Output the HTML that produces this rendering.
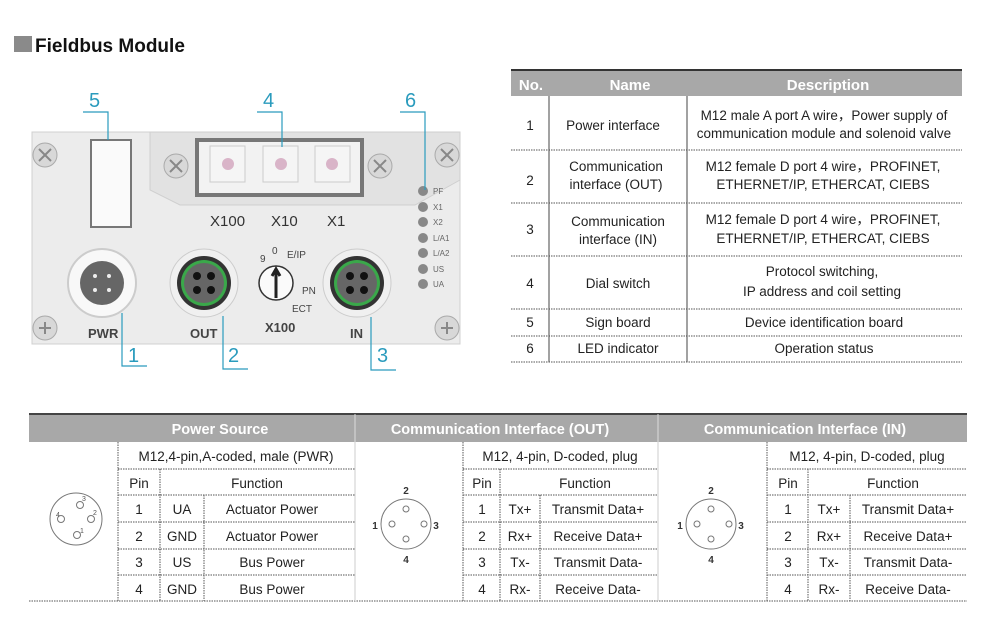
<!DOCTYPE html>
<html><head><meta charset="utf-8"><style>
html,body{margin:0;padding:0;background:#fff;}
svg{display:block;font-family:"Liberation Sans","Noto Sans CJK SC",sans-serif;}
</style></head><body>
<svg width="988" height="619" viewBox="0 0 988 619" xmlns="http://www.w3.org/2000/svg">
<!-- Title -->
<rect x="14" y="36" width="18" height="16" fill="#8a8a8a"/>
<text x="35" y="52" font-size="19" font-weight="bold" fill="#111">Fieldbus Module</text>

<!-- Device panel -->
<rect x="32" y="132" width="428" height="212" fill="#ececec" stroke="#d0d0d0"/>
<polygon points="150,132 460,132 460,180 415,205 180,205 150,190" fill="#e2e2e2" stroke="#cfcfcf"/>
<rect x="197" y="140" width="165" height="55" fill="#f2f2f2" stroke="#777" stroke-width="4"/>
<g fill="#f5f5f5" stroke="#ccc"><rect x="210" y="146" width="35" height="36"/><rect x="263" y="146" width="35" height="36"/><rect x="315" y="146" width="35" height="36"/></g>
<g fill="#d9b4c8"><circle cx="228" cy="164" r="6"/><circle cx="281" cy="164" r="6"/><circle cx="332" cy="164" r="6"/></g>
<g fill="#d8d8d8" stroke="#aaa"><circle cx="45" cy="155" r="12"/><circle cx="176" cy="166" r="12"/><circle cx="380" cy="166" r="12"/><circle cx="447" cy="155" r="12"/><circle cx="45" cy="328" r="12"/><circle cx="447" cy="328" r="12"/></g>
<g stroke="#888" stroke-width="2"><path d="M39 149l12 12M51 149l-12 12M170 160l12 12M182 160l-12 12M374 160l12 12M386 160l-12 12M441 149l12 12M453 149l-12 12M39 328h12M45 322v12M441 328h12M447 322v12"/></g>
<rect x="91" y="140" width="40" height="87" fill="#fafafa" stroke="#777" stroke-width="2"/>
<g font-size="15" fill="#333"><text x="210" y="226">X100</text><text x="271" y="226">X10</text><text x="327" y="226">X1</text></g>
<!-- connectors -->
<circle cx="102" cy="283" r="34" fill="#f8f8f8" stroke="#ccc" stroke-width="2"/><circle cx="102" cy="283" r="22" fill="#666"/>
<g fill="#eee"><circle cx="95" cy="276" r="2"/><circle cx="109" cy="276" r="2"/><circle cx="95" cy="290" r="2"/><circle cx="109" cy="290" r="2"/></g>
<circle cx="204" cy="283" r="34" fill="#f0f0f0" stroke="#ccc"/><circle cx="204" cy="283" r="27" fill="#333"/><circle cx="204" cy="283" r="23" fill="#3aa84a"/><circle cx="204" cy="283" r="20" fill="#666"/>
<circle cx="357" cy="283" r="34" fill="#f0f0f0" stroke="#ccc"/><circle cx="357" cy="283" r="27" fill="#333"/><circle cx="357" cy="283" r="23" fill="#3aa84a"/><circle cx="357" cy="283" r="20" fill="#666"/>
<g fill="#111"><circle cx="197" cy="276" r="4"/><circle cx="211" cy="276" r="4"/><circle cx="197" cy="290" r="4"/><circle cx="211" cy="290" r="4"/><circle cx="350" cy="276" r="4"/><circle cx="364" cy="276" r="4"/><circle cx="350" cy="290" r="4"/><circle cx="364" cy="290" r="4"/></g>
<circle cx="276" cy="283" r="17" fill="#fafafa" stroke="#333" stroke-width="1.5"/><path d="M276 298V270M272 276l4-7 4 7" stroke="#222" stroke-width="3" fill="none"/>
<g font-size="10" fill="#444"><text x="260" y="262">9</text><text x="272" y="254">0</text><text x="287" y="258">E/IP</text><text x="302" y="294">PN</text><text x="292" y="312">ECT</text></g>
<g font-size="13" fill="#444" font-weight="bold"><text x="88" y="338">PWR</text><text x="190" y="338">OUT</text><text x="265" y="332">X100</text><text x="350" y="338">IN</text></g>
<g fill="#888"><circle cx="423" cy="191" r="5"/><circle cx="423" cy="207" r="5"/><circle cx="423" cy="222" r="5"/><circle cx="423" cy="238" r="5"/><circle cx="423" cy="253" r="5"/><circle cx="423" cy="269" r="5"/><circle cx="423" cy="284" r="5"/></g>
<g font-size="8" fill="#666"><text x="433" y="194">PF</text><text x="433" y="210">X1</text><text x="433" y="225">X2</text><text x="433" y="241">L/A1</text><text x="433" y="256">L/A2</text><text x="433" y="272">US</text><text x="433" y="287">UA</text></g>
<!-- callouts -->
<g stroke="#2a9bbd" stroke-width="1.2" fill="none"><path d="M83 112h25v28M257 112h25v35M400 112h25v78M122 313v53h25M223 316v53h25M371 317v53h25"/></g>
<g font-size="20" fill="#2a9bbd"><text x="89" y="107">5</text><text x="263" y="107">4</text><text x="405" y="107">6</text><text x="128" y="362">1</text><text x="228" y="362">2</text><text x="377" y="362">3</text></g>

<!-- Top right table -->
<rect x="511" y="70" width="451" height="26" fill="#a8a8a8"/><rect x="511" y="69" width="451" height="2" fill="#333"/>
<g font-size="15" font-weight="bold" fill="#fff" text-anchor="middle"><text x="531" y="90">No.</text><text x="630" y="90">Name</text><text x="828" y="90">Description</text></g>
<g stroke="#555" stroke-dasharray="1.5 1"><path d="M511 150h451M511 203h451M511 256h451M511 309h451M511 336h451M511 362h451"/></g>
<g stroke="#444"><path d="M549 96v266M687 96v266"/></g>
<g font-size="13.5" fill="#222" text-anchor="middle">
<text x="530" y="130">1</text><text x="613" y="130">Power interface</text><text x="824" y="120">M12 male A port A wire，Power supply of</text><text x="824" y="138">communication module and solenoid valve</text>
<text x="530" y="185">2</text><text x="616" y="171">Communication</text><text x="616" y="189">interface (OUT)</text><text x="823" y="171">M12 female D port 4 wire，PROFINET,</text><text x="823" y="189">ETHERNET/IP, ETHERCAT, CIEBS</text>
<text x="530" y="234">3</text><text x="618" y="226">Communication</text><text x="618" y="244">interface (IN)</text><text x="823" y="224">M12 female D port 4 wire，PROFINET,</text><text x="823" y="243">ETHERNET/IP, ETHERCAT, CIEBS</text>
<text x="530" y="288">4</text><text x="618" y="288">Dial switch</text><text x="822" y="276">Protocol switching,</text><text x="822" y="296">IP address and coil setting</text>
<text x="530" y="327">5</text><text x="618" y="327">Sign board</text><text x="824" y="327">Device identification board</text>
<text x="530" y="353">6</text><text x="618" y="353">LED indicator</text><text x="824" y="353">Operation status</text>
</g>

<!-- Bottom table -->
<rect x="29" y="414" width="938" height="28" fill="#a8a8a8"/><rect x="29" y="413" width="938" height="2" fill="#444"/>
<g stroke="#ddd"><path d="M355 414v28M658 414v28"/></g>
<g font-size="14.5" font-weight="bold" fill="#fff" text-anchor="middle"><text x="220" y="434">Power Source</text><text x="500" y="434">Communication Interface (OUT)</text><text x="805" y="434">Communication Interface (IN)</text></g>
<g stroke="#555" stroke-dasharray="1.5 1">
<path d="M29 601h938"/>
<path d="M118 469h237M118 495h237M118 522h237M118 549h237M118 575h237"/>
<path d="M463 469h195M463 495h195M463 522h195M463 549h195M463 575h195"/>
<path d="M767 469h200M767 495h200M767 522h200M767 549h200M767 575h200"/>
<path d="M118 442v159M160 469v132M204 495v106M463 442v159M500 469v132M540 495v106M767 442v159M808 469v132M850 495v106"/>
</g>
<g stroke="#ccc"><path d="M355 442v159M658 442v159"/></g>
<g font-size="13.5" fill="#222" text-anchor="middle">
<text x="236" y="461">M12,4-pin,A-coded, male (PWR)</text><text x="139" y="488">Pin</text><text x="257" y="488">Function</text>
<text x="139" y="514">1</text><text x="182" y="514">UA</text><text x="272" y="514">Actuator Power</text>
<text x="139" y="541">2</text><text x="182" y="541">GND</text><text x="272" y="541">Actuator Power</text>
<text x="139" y="567">3</text><text x="182" y="567">US</text><text x="272" y="567">Bus Power</text>
<text x="139" y="594">4</text><text x="182" y="594">GND</text><text x="272" y="594">Bus Power</text>
<text x="560" y="461">M12, 4-pin, D-coded, plug</text><text x="482" y="488">Pin</text><text x="585" y="488">Function</text>
<text x="482" y="514">1</text><text x="520" y="514">Tx+</text><text x="598" y="514">Transmit Data+</text>
<text x="482" y="541">2</text><text x="520" y="541">Rx+</text><text x="598" y="541">Receive Data+</text>
<text x="482" y="567">3</text><text x="520" y="567">Tx-</text><text x="598" y="567">Transmit Data-</text>
<text x="482" y="594">4</text><text x="520" y="594">Rx-</text><text x="598" y="594">Receive Data-</text>
<text x="867" y="461">M12, 4-pin, D-coded, plug</text><text x="788" y="488">Pin</text><text x="893" y="488">Function</text>
<text x="788" y="514">1</text><text x="829" y="514">Tx+</text><text x="908" y="514">Transmit Data+</text>
<text x="788" y="541">2</text><text x="829" y="541">Rx+</text><text x="908" y="541">Receive Data+</text>
<text x="788" y="567">3</text><text x="829" y="567">Tx-</text><text x="908" y="567">Transmit Data-</text>
<text x="788" y="594">4</text><text x="829" y="594">Rx-</text><text x="908" y="594">Receive Data-</text>
</g>
<!-- pin diagrams -->
<g fill="none" stroke="#777" stroke-width="1">
<circle cx="76" cy="519" r="26"/><circle cx="80" cy="505" r="3.5"/><circle cx="61" cy="519" r="3.5"/><circle cx="91" cy="519" r="3.5"/><circle cx="77" cy="535" r="3.5"/>
<circle cx="406" cy="524" r="25"/><circle cx="406" cy="509" r="3"/><circle cx="392" cy="524" r="3"/><circle cx="424" cy="524" r="3"/><circle cx="406" cy="539" r="3"/>
<circle cx="711" cy="524" r="25"/><circle cx="711" cy="509" r="3"/><circle cx="697" cy="524" r="3"/><circle cx="729" cy="524" r="3"/><circle cx="711" cy="539" r="3"/>
</g>
<g font-size="7" fill="#555"><text x="82" y="501">3</text><text x="56" y="517">4</text><text x="93" y="515">2</text><text x="80" y="533">1</text></g>
<g font-size="10" font-weight="bold" fill="#333" text-anchor="middle"><text x="406" y="494">2</text><text x="375" y="529">1</text><text x="436" y="529">3</text><text x="406" y="563">4</text><text x="711" y="494">2</text><text x="680" y="529">1</text><text x="741" y="529">3</text><text x="711" y="563">4</text></g>
</svg>
</body></html>
